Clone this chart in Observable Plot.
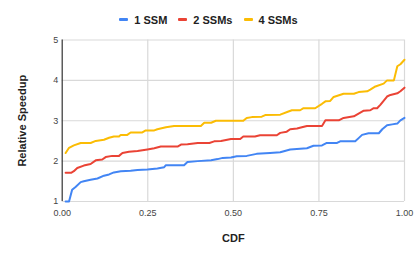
<!DOCTYPE html>
<html>
<head>
<meta charset="utf-8">
<script src="https://cdn.jsdelivr.net/npm/d3@7"></script>
<script src="https://cdn.jsdelivr.net/npm/@observablehq/plot@0.6"></script>
<style>
  body { margin: 0; background: #fff; font-family: Arial, "Liberation Sans", sans-serif; }
  #legend { height: 30px; display: flex; justify-content: center; align-items: center; gap: 11px; padding-top: 9px; box-sizing: border-box; font-weight: bold; font-size: 11px; color: #222; }
  .item { display: flex; align-items: center; gap: 6px; }
  .sw { width: 9px; height: 3px; border-radius: 1px; }
  svg { display: block; }
</style>
</head>
<body>
<div id="legend"></div>
<div id="chart"></div>
<script>
const seriesNames = ["1 SSM", "2 SSMs", "4 SSMs"];
const seriesColors = ["#4285F4", "#EA4335", "#FBBC04"];

const cdf1 = [0.01, 0.02, 0.029, 0.039, 0.054, 0.063, 0.083, 0.103, 0.122, 0.137, 0.151, 0.171, 0.2, 0.22, 0.249, 0.278, 0.298, 0.303, 0.356, 0.366, 0.396, 0.435, 0.454, 0.469, 0.493, 0.51, 0.539, 0.568, 0.607, 0.637, 0.666, 0.715, 0.734, 0.759, 0.773, 0.803, 0.812, 0.856, 0.866, 0.876, 0.895, 0.925, 0.935, 0.949, 0.964, 0.979, 0.988, 1.0];
const speedup1 = [1.0, 1.0, 1.29, 1.36, 1.48, 1.5, 1.54, 1.57, 1.64, 1.67, 1.72, 1.75, 1.76, 1.78, 1.79, 1.82, 1.85, 1.9, 1.9, 1.98, 2.0, 2.02, 2.05, 2.08, 2.09, 2.12, 2.13, 2.18, 2.2, 2.22, 2.29, 2.32, 2.38, 2.39, 2.45, 2.45, 2.49, 2.49, 2.57, 2.65, 2.69, 2.69, 2.79, 2.89, 2.91, 2.93, 3.01, 3.07];

const cdf2 = [0.01, 0.026, 0.034, 0.044, 0.063, 0.083, 0.098, 0.117, 0.127, 0.146, 0.166, 0.176, 0.195, 0.22, 0.249, 0.269, 0.288, 0.312, 0.337, 0.347, 0.366, 0.396, 0.43, 0.444, 0.464, 0.493, 0.52, 0.529, 0.563, 0.578, 0.627, 0.637, 0.656, 0.666, 0.686, 0.7, 0.715, 0.759, 0.769, 0.808, 0.822, 0.852, 0.881, 0.9, 0.91, 0.92, 0.93, 0.949, 0.959, 0.979, 0.988, 1.0];
const speedup2 = [1.71, 1.71, 1.75, 1.83, 1.89, 1.93, 2.02, 2.04, 2.1, 2.13, 2.13, 2.2, 2.23, 2.25, 2.29, 2.32, 2.36, 2.36, 2.36, 2.41, 2.42, 2.45, 2.45, 2.49, 2.5, 2.55, 2.55, 2.61, 2.61, 2.64, 2.64, 2.7, 2.73, 2.79, 2.81, 2.84, 2.87, 2.87, 3.01, 3.01, 3.07, 3.11, 3.25, 3.26, 3.31, 3.31, 3.4, 3.6, 3.64, 3.68, 3.73, 3.82];

const cdf4 = [0.01, 0.02, 0.034, 0.054, 0.083, 0.098, 0.122, 0.137, 0.151, 0.166, 0.171, 0.19, 0.2, 0.234, 0.244, 0.269, 0.278, 0.303, 0.327, 0.356, 0.405, 0.415, 0.435, 0.449, 0.493, 0.529, 0.539, 0.554, 0.583, 0.593, 0.637, 0.661, 0.671, 0.695, 0.705, 0.739, 0.759, 0.769, 0.783, 0.793, 0.822, 0.852, 0.866, 0.891, 0.9, 0.915, 0.939, 0.949, 0.969, 0.979, 0.988, 1.0];
const speedup4 = [2.2, 2.33, 2.39, 2.45, 2.45, 2.5, 2.53, 2.58, 2.61, 2.61, 2.65, 2.65, 2.71, 2.71, 2.76, 2.76, 2.79, 2.84, 2.87, 2.87, 2.87, 2.95, 2.95, 3.0, 3.0, 3.0, 3.07, 3.09, 3.1, 3.14, 3.15, 3.23, 3.26, 3.26, 3.31, 3.31, 3.42, 3.48, 3.49, 3.59, 3.67, 3.67, 3.71, 3.73, 3.77, 3.85, 3.92, 4.0, 4.0, 4.35, 4.4, 4.51];

const xTicks = [0, 0.25, 0.5, 0.75, 1.0];
const yTicks = [1, 2, 3, 4, 5];

const xs = [cdf1, cdf2, cdf4];
const ys = [speedup1, speedup2, speedup4];
const data = [];
seriesNames.forEach((name, i) => {
  xs[i].forEach((x, j) => data.push({series: name, cdf: x, speedup: ys[i][j]}));
});

// legend
const legend = document.getElementById("legend");
seriesNames.forEach((name, i) => {
  const it = document.createElement("div");
  it.className = "item";
  it.innerHTML = `<span class="sw" style="background:${seriesColors[i]}"></span><span>${name}</span>`;
  legend.appendChild(it);
});

const chart = Plot.plot({
  width: 417,
  height: 228,
  marginTop: 9.5,
  marginBottom: 57,
  marginLeft: 61.7,
  marginRight: 13,
  style: {fontFamily: "Arial, 'Liberation Sans', sans-serif", background: "#fff"},
  x: {domain: [0, 1]},
  y: {domain: [1, 5]},
  color: {domain: seriesNames, range: seriesColors},
  marks: [
    Plot.ruleY(yTicks, {stroke: "#d9d9d9", strokeWidth: 1.2}),
    Plot.ruleX(xTicks.slice(1), {stroke: "#d9d9d9", strokeWidth: 1.2}),
    Plot.ruleX([0], {stroke: "#333", strokeWidth: 1.2}),
    Plot.axisX({ticks: xTicks, tickSize: 0, tickPadding: 8, tickFormat: d3.format(".2f"), label: null, fontSize: 9, color: "#444"}),
    Plot.axisY({ticks: yTicks, tickSize: 0, tickPadding: 4, tickFormat: d3.format("d"), label: null, fontSize: 9, color: "#444"}),
    Plot.line(data, {x: "cdf", y: "speedup", z: "series", stroke: "series", strokeWidth: 2, strokeLinejoin: "round"}),
    Plot.text(["CDF"], {frameAnchor: "bottom", dy: 37, text: d => d, fontWeight: "bold", fontSize: 11, fill: "#222", lineAnchor: "middle"}),
    Plot.text(["Relative Speedup"], {frameAnchor: "left", dx: -40, rotate: -90, text: d => d, fontWeight: "bold", fontSize: 11, fill: "#222", lineAnchor: "middle", textAnchor: "middle"})
  ]
});
document.getElementById("chart").appendChild(chart);
</script>
</body>
</html>
